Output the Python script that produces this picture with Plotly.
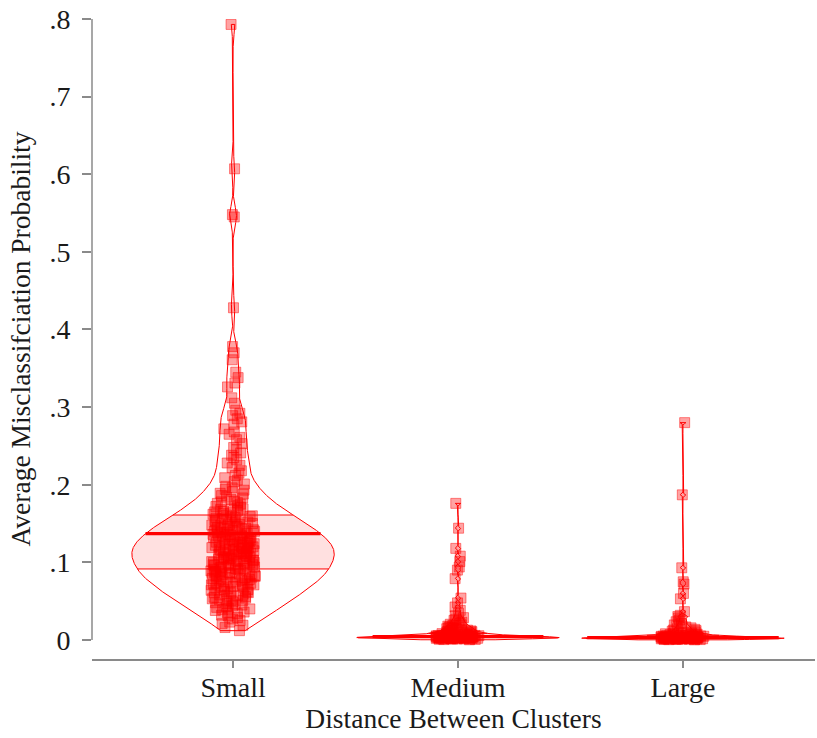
import numpy as np
import plotly.graph_objects as go

categories = ["Small", "Medium", "Large"]

small = [
    0.012, 0.016, 0.019,
    0.021, 0.023, 0.025, 0.027, 0.029,
    0.031, 0.032, 0.034, 0.035, 0.036, 0.038, 0.039,
    0.040, 0.041, 0.042, 0.043, 0.044, 0.045, 0.046, 0.047, 0.048, 0.049,
    0.050, 0.051, 0.051, 0.052, 0.053, 0.054, 0.055, 0.056, 0.057, 0.057, 0.058, 0.059,
    0.060, 0.061, 0.061, 0.062, 0.062, 0.063, 0.064, 0.065, 0.065, 0.066, 0.067, 0.068, 0.069, 0.069,
    0.070, 0.071, 0.071, 0.072, 0.072, 0.073, 0.073, 0.074, 0.075, 0.075, 0.076, 0.077, 0.077, 0.078, 0.079, 0.079,
    0.080, 0.080, 0.081, 0.081, 0.082, 0.082, 0.083, 0.083, 0.084, 0.084, 0.085, 0.085, 0.086, 0.087, 0.087, 0.088, 0.088, 0.089,
    0.090, 0.090, 0.091, 0.091, 0.092, 0.092, 0.093, 0.093, 0.094, 0.094, 0.095, 0.095, 0.096, 0.096, 0.097, 0.097, 0.098, 0.099, 0.099,
    0.100, 0.100, 0.101, 0.101, 0.102, 0.102, 0.103, 0.103, 0.104, 0.104, 0.105, 0.105, 0.106, 0.106, 0.107, 0.107, 0.108, 0.108, 0.109, 0.109,
    0.110, 0.110, 0.111, 0.111, 0.112, 0.112, 0.113, 0.113, 0.114, 0.114, 0.115, 0.115, 0.116, 0.116, 0.117, 0.117, 0.118, 0.118, 0.119, 0.119,
    0.120, 0.120, 0.121, 0.121, 0.122, 0.122, 0.123, 0.123, 0.124, 0.124, 0.125, 0.125, 0.126, 0.126, 0.127, 0.127, 0.128, 0.129, 0.129,
    0.130, 0.130, 0.131, 0.131, 0.132, 0.132, 0.133, 0.134, 0.134, 0.135, 0.135, 0.136, 0.136, 0.137, 0.138, 0.138, 0.139, 0.139,
    0.140, 0.140, 0.141, 0.142, 0.142, 0.143, 0.144, 0.144, 0.145, 0.146, 0.146, 0.147, 0.148, 0.148, 0.149, 0.149,
    0.150, 0.151, 0.152, 0.152, 0.153, 0.154, 0.155, 0.156, 0.156, 0.157, 0.158, 0.159, 0.159,
    0.160, 0.161, 0.162, 0.163, 0.164, 0.165, 0.166, 0.167, 0.168, 0.169, 0.169,
    0.171, 0.172, 0.173, 0.175, 0.176, 0.177, 0.178, 0.179,
    0.181, 0.183, 0.184, 0.186, 0.188, 0.189,
    0.191, 0.193, 0.194, 0.196, 0.198,
    0.201, 0.204, 0.206, 0.209,
    0.212, 0.215, 0.218,
    0.222, 0.225, 0.228,
    0.232, 0.235, 0.238,
    0.241, 0.245, 0.248,
    0.253, 0.258,
    0.261, 0.265, 0.268,
    0.272, 0.278,
    0.281, 0.285, 0.289,
    0.292, 0.296,
    0.305, 0.312, 0.326, 0.331, 0.338, 0.345, 0.361, 0.370, 0.378,
    0.428, 0.545, 0.548, 0.607, 0.793,
]

medium = [
    0.0003, 0.0005, 0.0007, 0.0009,
    0.0011, 0.0012, 0.0013, 0.0014, 0.0015, 0.0016, 0.0018, 0.0019,
    0.0020, 0.0021, 0.0022, 0.0022, 0.0023, 0.0024, 0.0025, 0.0025, 0.0026, 0.0027, 0.0027, 0.0028, 0.0029, 0.0029,
    0.0030, 0.0030, 0.0031, 0.0032, 0.0032, 0.0033, 0.0034, 0.0035, 0.0035, 0.0036, 0.0037, 0.0038, 0.0038, 0.0039,
    0.0040, 0.0041, 0.0042, 0.0043, 0.0044, 0.0045, 0.0046, 0.0047, 0.0048, 0.0049,
    0.0051, 0.0052, 0.0054, 0.0055, 0.0057, 0.0058, 0.0059,
    0.0061, 0.0063, 0.0066, 0.0068, 0.0071, 0.0074, 0.0076, 0.0079,
    0.0082, 0.0085, 0.0088, 0.0091, 0.0095, 0.0098,
    0.0102, 0.0107, 0.0112, 0.0117, 0.0122, 0.0127,
    0.0133, 0.0138, 0.0145, 0.0151, 0.0157,
    0.0162, 0.0170, 0.0178, 0.0186, 0.0195,
    0.0203, 0.0215, 0.0228, 0.0241,
    0.0254, 0.0271, 0.0288,
    0.0312, 0.0345, 0.0382,
    0.0425, 0.0478,
    0.054, 0.079, 0.090, 0.094, 0.101, 0.108, 0.118, 0.144, 0.176,
]

large = [
    0.0002, 0.0004, 0.0005, 0.0006, 0.0008, 0.0009,
    0.0010, 0.0011, 0.0011, 0.0012, 0.0013, 0.0013, 0.0014, 0.0015, 0.0015, 0.0016, 0.0017, 0.0018, 0.0018, 0.0019,
    0.0020, 0.0020, 0.0021, 0.0021, 0.0022, 0.0023, 0.0023, 0.0024, 0.0025, 0.0025, 0.0026, 0.0027, 0.0027, 0.0028, 0.0029, 0.0029,
    0.0030, 0.0031, 0.0032, 0.0033, 0.0034, 0.0035, 0.0036, 0.0037, 0.0037, 0.0038, 0.0039,
    0.0040, 0.0042, 0.0043, 0.0044, 0.0046, 0.0047, 0.0048, 0.0049,
    0.0051, 0.0053, 0.0056, 0.0058, 0.0061, 0.0064, 0.0066, 0.0069,
    0.0072, 0.0076, 0.0080, 0.0084, 0.0088, 0.0093, 0.0098,
    0.0104, 0.0113, 0.0121, 0.0129, 0.0137, 0.0146,
    0.0156, 0.0168, 0.0181, 0.0194,
    0.0212, 0.0235, 0.0258, 0.0284,
    0.0302, 0.0318, 0.0365,
    0.053, 0.060, 0.072, 0.075, 0.093, 0.187, 0.280,
]

# box statistics (lower quartile, median, upper quartile)
q1_vals = [0.0915, 0.0028, 0.0018]
median_vals = [0.137, 0.0045, 0.0030]
q3_vals = [0.161, 0.0085, 0.0060]

# kernel bandwidths for the violin outlines
bandwidths = [0.012, 0.0013, 0.0011]

y_tickvals = [0, 0.1, 0.2, 0.3, 0.4, 0.5, 0.6, 0.7, 0.8]
y_ticktext = ["0", ".1", ".2", ".3", ".4", ".5", ".6", ".7", ".8"]

RED = "rgb(255,0,0)"
PINK = "rgba(255,0,0,0.12)"
AXIS = "#8a8a8a"
FONT = "Liberation Serif"
HALF = 0.45

fig = go.Figure()
groups = [small, medium, large]

for i, vals in enumerate(groups):
    v = np.sort(np.asarray(vals, dtype=float))
    bw = bandwidths[i]
    grid = np.linspace(v.min(), v.max(), 2000)
    dens = np.exp(-0.5 * ((grid[:, None] - v[None, :]) / bw) ** 2).sum(axis=1)
    w = HALF * dens / dens.max()

    q1, med, q3 = q1_vals[i], median_vals[i], q3_vals[i]
    inside = (grid > q1) & (grid < q3)
    yb = np.concatenate([[q1], grid[inside], [q3]])
    wb = np.interp(yb, grid, w)

    # shaded interquartile band
    fig.add_trace(go.Scatter(
        x=np.concatenate([i - wb, (i + wb)[::-1]]),
        y=np.concatenate([yb, yb[::-1]]),
        mode="lines", fill="toself", fillcolor=PINK,
        line=dict(width=0), hoverinfo="skip", showlegend=False))

    # quartile lines
    for q, lw in ((q1, 1), (q3, 1)):
        wq = float(np.interp(q, grid, w))
        fig.add_trace(go.Scatter(x=[i - wq, i + wq], y=[q, q], mode="lines",
                                 line=dict(color=RED, width=lw),
                                 hoverinfo="skip", showlegend=False))

    # violin outline
    fig.add_trace(go.Scatter(
        x=np.concatenate([i - w, (i + w)[::-1], [i - w[0]]]),
        y=np.concatenate([grid, grid[::-1], [grid[0]]]),
        mode="lines", line=dict(color=RED, width=1),
        hoverinfo="skip", showlegend=False))

    # median line
    wm = float(np.interp(med, grid, w))
    fig.add_trace(go.Scatter(x=[i - wm, i + wm], y=[med, med], mode="lines",
                             line=dict(color=RED, width=3.2),
                             hoverinfo="skip", showlegend=False))

# jittered points
for i, vals in enumerate(groups):
    fig.add_trace(go.Violin(
        x=[i] * len(vals), y=vals, name=categories[i],
        points="all", jitter=0.22, pointpos=0, width=0.9,
        spanmode="hard", fillcolor="rgba(0,0,0,0)",
        line=dict(width=0, color="rgba(0,0,0,0)"),
        marker=dict(symbol="square", size=10, color="rgba(255,0,0,0.36)",
                    line=dict(width=1, color="rgba(255,0,0,0.45)")),
        box=dict(visible=False), meanline=dict(visible=False),
        hoveron="points", showlegend=False))

# y axis line spanning only the labelled range
fig.add_shape(type="line", xref="paper", yref="y", x0=0, x1=0, y0=0, y1=0.8,
              line=dict(color=AXIS, width=1.5), layer="above")

fig.update_layout(
    width=817, height=738,
    margin=dict(l=92, r=2, t=19, b=79, autoexpand=False),
    paper_bgcolor="white", plot_bgcolor="white",
    font=dict(family=FONT, size=27, color="#1a1a1a"),
    showlegend=False,
    xaxis=dict(
        range=[-0.627, 2.587], tickvals=[0, 1, 2], ticktext=categories,
        ticks="outside", ticklen=7, tickwidth=1.5, tickcolor=AXIS,
        tickfont=dict(size=28), ticklabelstandoff=-4,
        showline=True, linecolor=AXIS, linewidth=1.5,
        showgrid=False, zeroline=False,
        title=dict(text="Distance Between Clusters", standoff=3,
                   font=dict(size=27.5)),
    ),
    yaxis=dict(
        range=[-0.0245, 0.8], tickvals=y_tickvals, ticktext=y_ticktext,
        ticks="outside", ticklen=9, tickwidth=1.5, tickcolor=AXIS,
        tickfont=dict(size=28),
        ticklabelstandoff=6,
        showline=False, showgrid=False, zeroline=False,
        title=dict(text="Average Misclassifciation Probability", standoff=10,
                   font=dict(size=27.5)),
    ),
)

fig.write_html(
    "out.html",
    config={"displayModeBar": False},
    post_script="document.body.style.margin='0';document.body.style.overflow='hidden';",
)
